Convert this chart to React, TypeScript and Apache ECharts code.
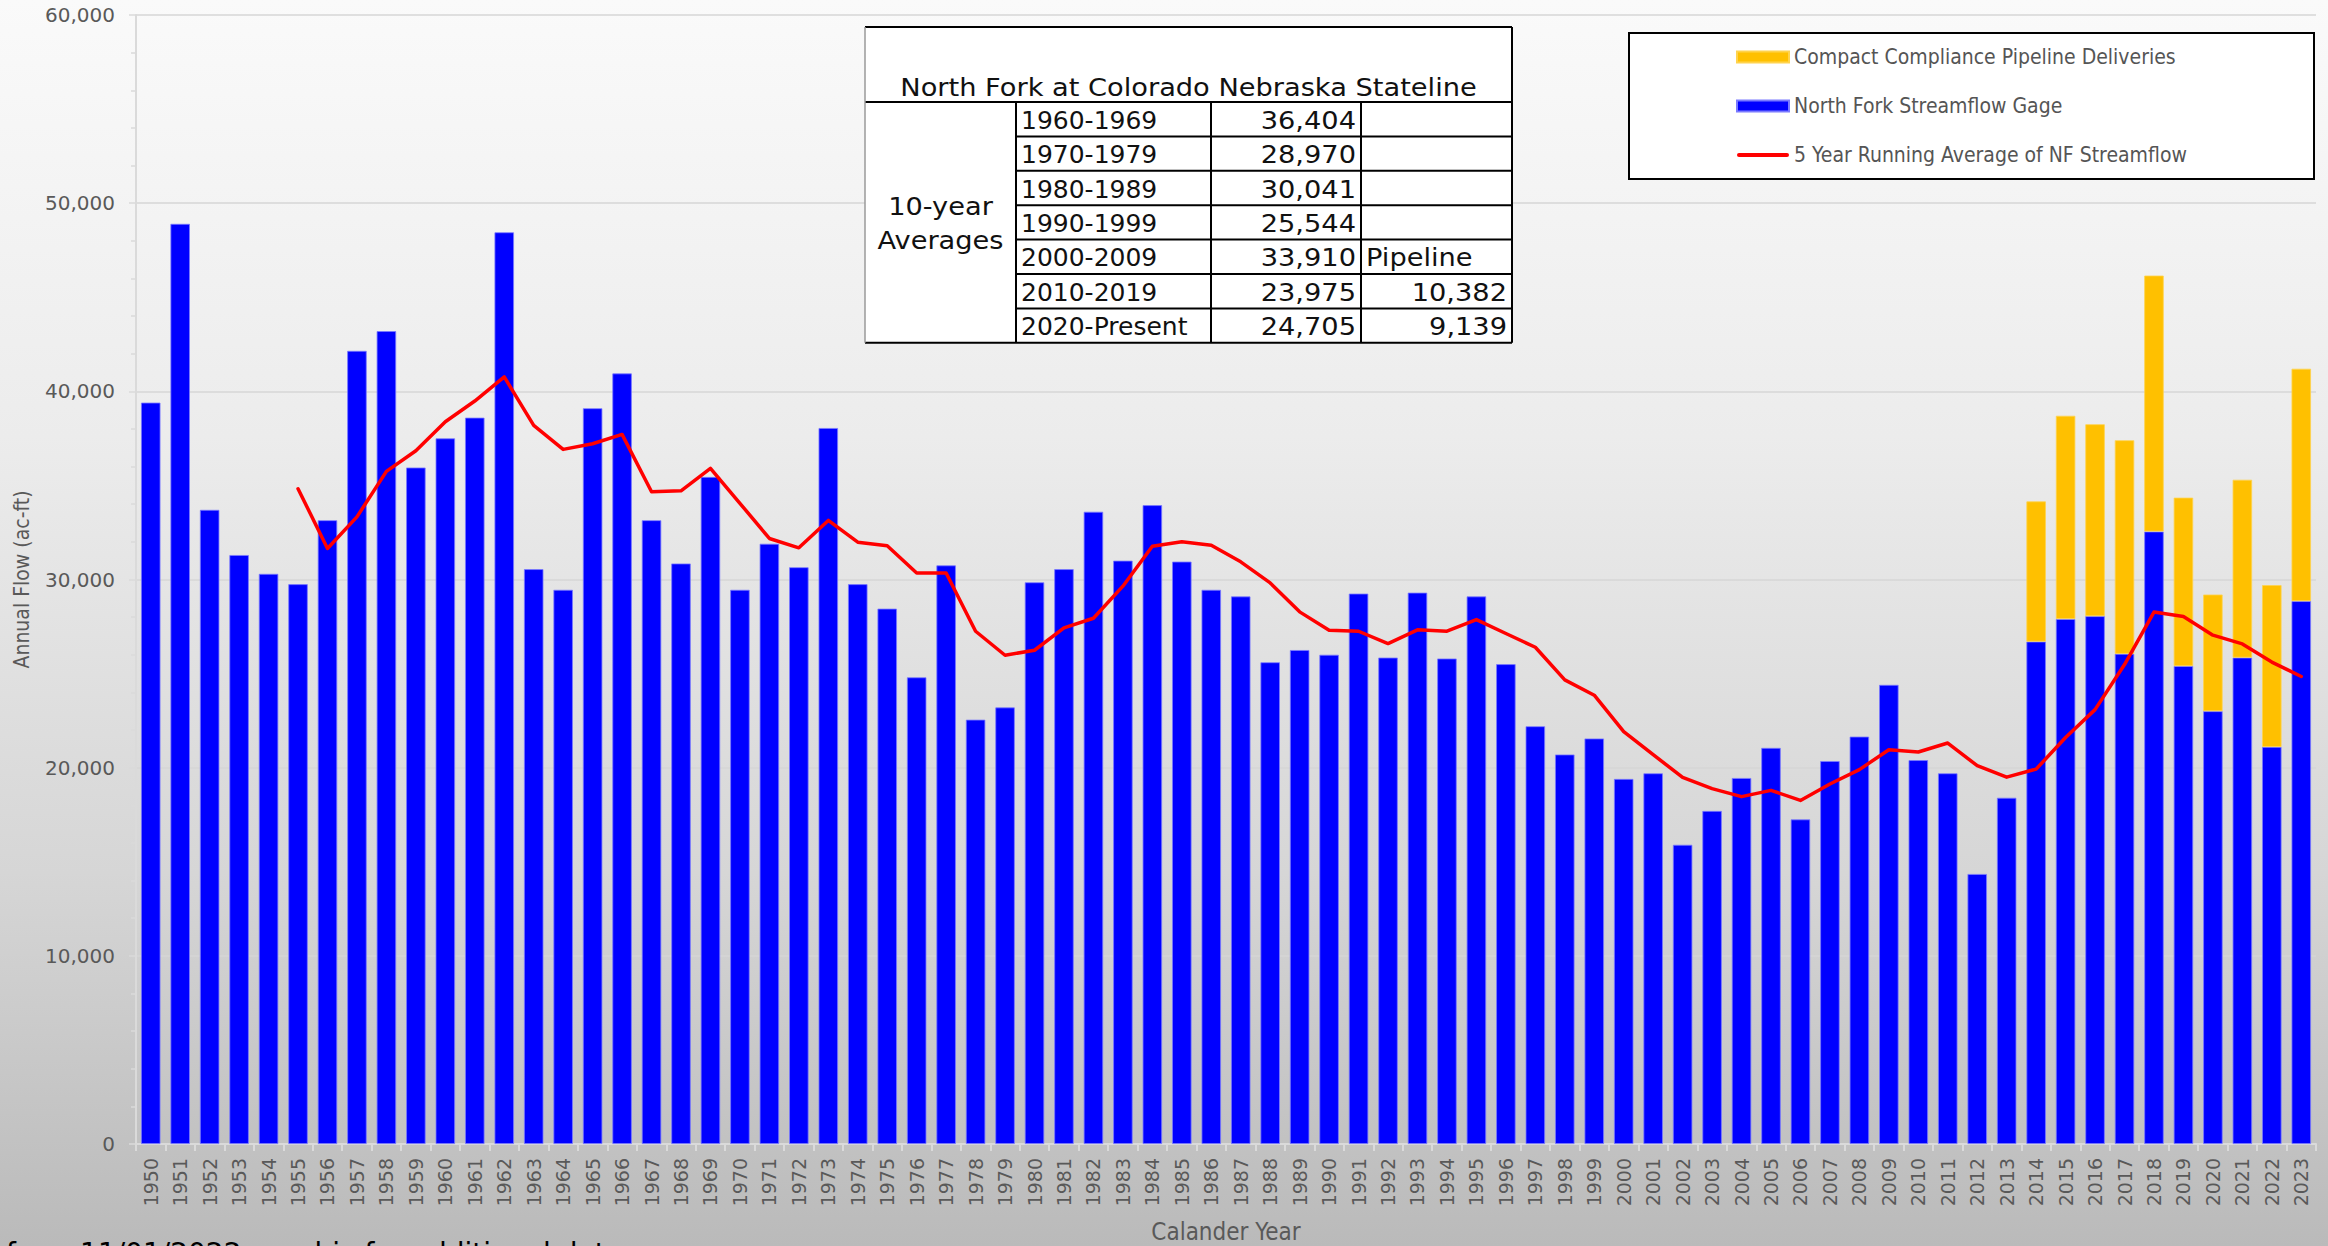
import React, { useEffect, useRef } from "react";
import * as echarts from "echarts";

const years = [
  "1950","1951","1952","1953","1954","1955","1956","1957","1958","1959",
  "1960","1961","1962","1963","1964","1965","1966","1967","1968","1969",
  "1970","1971","1972","1973","1974","1975","1976","1977","1978","1979",
  "1980","1981","1982","1983","1984","1985","1986","1987","1988","1989",
  "1990","1991","1992","1993","1994","1995","1996","1997","1998","1999",
  "2000","2001","2002","2003","2004","2005","2006","2007","2008","2009",
  "2010","2011","2012","2013","2014","2015","2016","2017","2018","2019",
  "2020","2021","2022","2023",
];

const gageFlow = [
  39400, 48900, 33700, 31300, 30300, 29750, 33150, 42150, 43200, 35950,
  37500, 38600, 48450, 30550, 29450, 39100, 40950, 33150, 30850, 35450,
  29450, 31900, 30650, 38050, 29750, 28450, 24800, 30750, 22550, 23200,
  29850, 30550, 33600, 31000, 33950, 30950, 29450, 29100, 25600, 26250,
  26000, 29250, 25850, 29300, 25800, 29100, 25500, 22200, 20700, 21550,
  19400, 19700, 15900, 17700, 19450, 21050, 17250, 20350, 21650, 24400,
  20400, 19700, 14350, 18400, 26700, 27900, 28050, 26050, 32550, 25400,
  23000, 25850, 21100, 28850,
];

const pipelineStartYear = "2014";
const pipelineFlow = [7450, 10800, 10200, 11350, 13600, 8950, 6200, 9450, 8600, 12350];

const avgStartYear = "1955";
const runningAvg = [
  34825, 31650, 33330, 35745, 36845, 38385, 39485, 40765, 38190, 36915,
  37215, 37710, 34660, 34715, 35910, 34050, 32180, 31685, 33140, 31985,
  31790, 30350, 30350, 27250, 25975, 26240, 27430, 27940, 29645, 31770,
  32005, 31825, 30940, 29820, 28280, 27305, 27250, 26595, 27325, 27250,
  27870, 27130, 26400, 24665, 23850, 21915, 20690, 19485, 18885, 18460,
  18795, 18260, 19130, 19895, 20955, 20835, 21310, 20105, 19495, 19925,
  21600, 23085, 25480, 28270, 28035, 27040, 26575, 25610, 24845,
];

const yTicks = [0, 10000, 20000, 30000, 40000, 50000, 60000];

const tableTitle = "North Fork at Colorado Nebraska Stateline";
const tableGroupLabel = ["10-year", "Averages"];
const decades = ["1960-1969", "1970-1979", "1980-1989", "1990-1999", "2000-2009", "2010-2019", "2020-Present"];
const decadeAverages = ["36,404", "28,970", "30,041", "25,544", "33,910", "23,975", "24,705"];
const pipelineColumn = ["", "", "", "", "Pipeline", "10,382", "9,139"];

const seriesNames = [
  "Compact Compliance Pipeline Deliveries",
  "North Fork Streamflow Gage",
  "5 Year Running Average of NF Streamflow",
];

const footnote = "from 11/01/2022 graphic for additional data";

const CONDENSED = "'Liberation Sans Narrow', 'DejaVu Sans Condensed', 'Roboto Condensed', 'Roboto', sans-serif";
const AXISFONT = "'DejaVu Sans', sans-serif";
const TABLEFONT = "'DejaVu Sans', sans-serif";

function padFrom(startYear: string, values: number[]) {
  const start = years.indexOf(startYear);
  return years.map((_, i) => (i >= start && i - start < values.length ? values[i - start] : null));
}

function buildTable() {
  const X0 = 865, X1 = 1016, X2 = 1211, X3 = 1361, XR = 1512;
  const Y0 = 27, YT = 102, RH = 34.4;
  const YB = YT + RH * decades.length;
  const els: any[] = [];
  const black = { stroke: "#000", lineWidth: 2 };
  els.push({ type: "rect", z: 100, shape: { x: X0, y: Y0, width: XR - X0, height: YB - Y0 }, style: { fill: "#fff" } });
  const line = (x1: number, y1: number, x2: number, y2: number, style: any = black) =>
    els.push({ type: "line", z: 101, shape: { x1, y1, x2, y2 }, style });
  line(X0, Y0, XR, Y0);
  line(X0, YT, XR, YT);
  line(X0, YB, XR, YB);
  line(XR, Y0, XR, YB);
  line(X0, Y0, X0, YB, { stroke: "#9a9a9a", lineWidth: 1.5 });
  [X1, X2, X3].forEach((x) => line(x, YT, x, YB));
  for (let k = 1; k < decades.length; k++) line(X1, YT + k * RH, XR, YT + k * RH);
  const txt = (text: string, x: number, y: number, align: string, sx = 1.09) =>
    els.push({
      type: "text", z: 102, x, y, scaleX: sx,
      style: { text, fill: "#111", font: `25px ${TABLEFONT}`, align, verticalAlign: "middle" },
    });
  txt(tableTitle, (X0 + XR) / 2, 87, "center");
  txt(tableGroupLabel[0], (X0 + X1) / 2, 206, "center");
  txt(tableGroupLabel[1], (X0 + X1) / 2, 240, "center");
  decades.forEach((d, k) => {
    const cy = YT + RH * (k + 0.5) + 1;
    txt(d, X1 + 5, cy, "left", 1.0);
    txt(decadeAverages[k], X3 - 5, cy, "right");
    const p = pipelineColumn[k];
    if (p) {
      if (/^[0-9,]+$/.test(p)) txt(p, XR - 5, cy, "right");
      else txt(p, X3 + 5, cy, "left");
    }
  });
  return els;
}

export default function App() {
  const ref = useRef<HTMLDivElement>(null);
  useEffect(() => {
    if (!ref.current) return;
    const chart = echarts.init(ref.current, null, { renderer: "svg" });
    const option: any = {
      animation: false,
      backgroundColor: "transparent",
      grid: { left: 136, right: 12, top: 15, bottom: 102, containLabel: false, outerBoundsMode: "none" },
      legend: {
        data: [
          { name: seriesNames[0], icon: "rect" },
          { name: seriesNames[1], icon: "rect" },
          { name: seriesNames[2], icon: "path://M2,0 L50,0 A2,2 0 0 1 50,4 L2,4 A2,2 0 0 1 2,0 Z" },
        ],
        orient: "vertical",
        left: 1731,
        top: 40,
        itemWidth: 52,
        itemHeight: 11,
        itemGap: 25,
        z: 200,
        textStyle: { fontFamily: CONDENSED, fontSize: 21, color: "#555555", lineHeight: 24 },
      },
      xAxis: {
        type: "category",
        data: years,
        boundaryGap: true,
        axisLine: { lineStyle: { color: "#dadada", width: 2 } },
        axisTick: { show: true, length: 7, lineStyle: { color: "#dadada", width: 2 } },
        axisLabel: { rotate: 90, interval: 0, fontSize: 19, fontFamily: AXISFONT, color: "#595959", margin: 14 },
        name: "Calander Year",
        nameLocation: "middle",
        nameGap: 76,
        nameTextStyle: { fontFamily: CONDENSED, fontSize: 24, color: "#595959", lineHeight: 24 },
      },
      yAxis: {
        type: "value",
        min: yTicks[0],
        max: yTicks[yTicks.length - 1],
        interval: yTicks[1] - yTicks[0],
        axisLine: { show: true, lineStyle: { color: "#dadada", width: 2 } },
        axisTick: { show: true, length: 7, lineStyle: { color: "#dadada", width: 1.5 } },
        minorTick: { show: true, splitNumber: 5, length: 5, lineStyle: { color: "#dadada", width: 1.5 } },
        splitLine: { show: true, lineStyle: { color: "#d6d6d6", width: 1.5 } },
        axisLabel: {
          fontSize: 20,
          fontFamily: AXISFONT,
          color: "#595959",
          margin: 21,
          formatter: (v: number) => v.toLocaleString("en-US"),
        },
        name: "Annual Flow (ac-ft)",
        nameLocation: "middle",
        nameGap: 104,
        nameTextStyle: { fontFamily: CONDENSED, fontSize: 21, color: "#595959" },
      },
      series: [
        {
          name: seriesNames[1],
          type: "bar",
          stack: "flow",
          barCategoryGap: "34%",
          itemStyle: { color: "#0000ff", borderColor: "#7a7aff", borderWidth: 0.8 },
          data: gageFlow,
        },
        {
          name: seriesNames[0],
          type: "bar",
          stack: "flow",
          barCategoryGap: "34%",
          itemStyle: { color: "#ffc000", borderColor: "#ffd34d", borderWidth: 0.8 },
          data: padFrom(pipelineStartYear, pipelineFlow),
        },
        {
          name: seriesNames[2],
          type: "line",
          symbol: "none",
          z: 5,
          itemStyle: { color: "#ff0000" },
          lineStyle: { color: "#ff0000", width: 3.5, cap: "round", join: "round" },
          data: padFrom(avgStartYear, runningAvg),
        },
      ],
      graphic: [
        {
          type: "rect",
          z: 100,
          shape: { x: 1629, y: 33, width: 685, height: 146 },
          style: { fill: "#fff", stroke: "#000", lineWidth: 2 },
        },
        ...buildTable(),
        {
          type: "text",
          z: 100,
          x: 6,
          y: 1239,
          style: { text: footnote, fill: "#000", font: `28px ${AXISFONT}`, align: "left", verticalAlign: "top" },
        },
      ],
    };
    chart.setOption(option);
    return () => chart.dispose();
  }, []);
  return (
    <div
      ref={ref}
      style={{
        position: "fixed",
        left: 0,
        top: 0,
        width: 2328,
        height: 1246,
        background: "linear-gradient(180deg, #fafafa 0%, #ececec 35%, #d6d6d6 70%, #bababa 100%)",
      }}
    />
  );
}
